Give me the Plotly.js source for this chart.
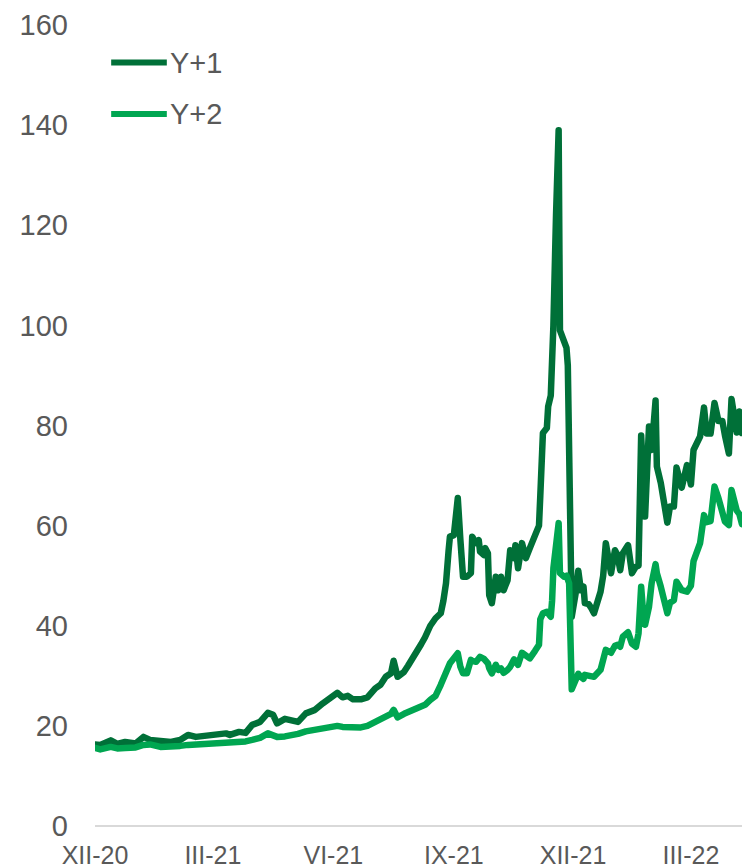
<!DOCTYPE html>
<html>
<head>
<meta charset="utf-8">
<script src="https://cdn.plot.ly/plotly-3.0.1.min.js"></script>
<style>
html,body{margin:0;padding:0;background:#fff;}
#chart{width:742px;height:868px;}
.scatterlayer path.js-line{stroke-linejoin:round;stroke-linecap:round;}
</style>
</head>
<body>
<div id="chart"></div>
<script>
const seriesNames = ["Y+1", "Y+2"];
const dates = [
"2020-12-01","2020-12-05","2020-12-13","2020-12-18","2020-12-24","2021-01-01","2021-01-07","2021-01-12","2021-01-20","2021-01-28",
"2021-02-04","2021-02-10","2021-02-16","2021-02-23","2021-03-03","2021-03-11","2021-03-14","2021-03-21","2021-03-26","2021-03-31",
"2021-04-06","2021-04-12","2021-04-16","2021-04-19","2021-04-25","2021-04-29","2021-05-05","2021-05-11","2021-05-18","2021-05-24",
"2021-05-30","2021-06-04","2021-06-08","2021-06-12","2021-06-16","2021-06-22","2021-06-27","2021-07-03","2021-07-07","2021-07-11",
"2021-07-15","2021-07-17","2021-07-20","2021-07-25","2021-07-28","2021-08-01","2021-08-07","2021-08-10","2021-08-14","2021-08-18",
"2021-08-22","2021-08-24","2021-08-26","2021-08-28","2021-08-29","2021-09-01","2021-09-04","2021-09-06","2021-09-08","2021-09-11",
"2021-09-14","2021-09-15","2021-09-18","2021-09-20","2021-09-21","2021-09-24","2021-09-25","2021-09-27","2021-09-28","2021-09-30",
"2021-10-03","2021-10-05","2021-10-07","2021-10-09","2021-10-12","2021-10-14","2021-10-17","2021-10-18","2021-10-20","2021-10-23",
"2021-10-26","2021-10-29","2021-11-02","2021-11-05","2021-11-06","2021-11-07","2021-11-08","2021-11-11","2021-11-12","2021-11-14",
"2021-11-15","2021-11-16","2021-11-18","2021-11-20","2021-11-21","2021-11-24","2021-11-26","2021-11-27","2021-11-28","2021-11-30",
"2021-12-03","2021-12-05","2021-12-07","2021-12-09","2021-12-10","2021-12-13","2021-12-15","2021-12-17","2021-12-22","2021-12-24",
"2021-12-26","2021-12-30","2022-01-02","2022-01-04","2022-01-06","2022-01-08","2022-01-12","2022-01-15","2022-01-18","2022-01-20",
"2022-01-22","2022-01-24","2022-01-25","2022-01-28","2022-01-30","2022-02-02","2022-02-03","2022-02-06","2022-02-08","2022-02-11",
"2022-02-13","2022-02-16","2022-02-18","2022-02-22","2022-02-26","2022-03-01","2022-03-03","2022-03-08","2022-03-11","2022-03-13",
"2022-03-16","2022-03-19","2022-03-22","2022-03-25","2022-03-27","2022-03-30","2022-04-01","2022-04-05","2022-04-07","2022-04-09"
];
const yPlus1 = [
16.3,16.2,17.1,16.4,16.8,16.5,17.8,17.2,17.0,16.8,
17.2,18.2,17.8,18.0,18.4,18.5,18.2,18.8,18.6,20.2,
20.8,22.6,22.2,20.5,21.4,21.2,20.8,22.5,23.2,24.5,
25.5,26.6,25.7,26.0,25.3,25.3,25.7,27.5,28.2,29.8,
30.5,33.0,29.8,30.8,32.0,34.0,36.3,37.7,40.0,41.5,
42.5,45.0,48.5,55.1,57.8,58.1,65.5,57.1,49.8,49.8,
50.5,57.8,56.5,57.1,54.8,54.1,55.5,54.5,46.1,44.5,
49.8,47.1,49.8,47.1,49.1,55.1,53.5,56.1,51.5,56.5,
53.5,55.5,58.5,60.0,66.0,72.0,78.5,79.5,83.8,86.0,
91.8,100.0,122.0,139.0,99.0,96.5,95.5,92.0,69.0,41.8,
46.5,51.0,47.1,47.8,44.5,44.3,43.5,42.5,46.8,50.0,
56.5,50.5,55.1,54.1,51.1,54.5,56.1,50.5,51.8,52.0,
78.0,61.8,61.8,79.8,75.1,85.0,71.8,68.5,65.5,60.6,
63.8,63.8,71.6,67.6,72.1,68.2,75.1,77.8,83.6,78.4,
78.4,84.5,80.9,80.9,78.0,74.4,85.3,78.6,82.8,78.5
];
const yPlus2 = [
15.6,15.3,15.8,15.5,15.6,15.7,16.2,16.3,15.8,15.8,
16.0,16.2,16.3,16.4,16.4,16.5,16.5,16.6,16.9,17.2,
17.6,18.5,17.9,17.8,17.9,18.0,18.4,18.9,19.2,19.6,
19.9,20.0,19.8,19.7,19.7,19.7,20.0,20.8,21.2,21.8,
22.4,23.2,21.7,22.4,22.8,23.2,23.8,24.2,25.2,26.0,
28.2,29.5,30.5,32.0,32.5,33.5,34.5,31.8,30.5,30.5,
33.2,33.0,32.8,33.5,33.8,33.4,33.2,32.5,31.5,30.5,
32.2,31.2,31.5,30.6,31.2,31.8,33.3,32.8,32.2,34.6,
34.0,33.5,35.0,36.2,41.3,42.0,42.5,42.8,42.5,41.8,
45.0,51.5,56.0,60.5,50.5,49.8,50.0,48.8,48.5,27.3,
29.2,30.4,29.8,29.4,30.2,29.9,29.8,29.8,31.2,33.2,
35.2,34.6,36.0,36.2,35.8,37.8,38.7,36.4,35.8,38.5,
47.8,41.0,40.2,43.8,48.5,52.3,50.5,47.8,45.3,42.5,
44.6,45.1,48.8,47.1,46.8,48.0,52.9,56.5,62.1,60.7,
60.9,67.8,65.5,61.8,60.8,60.1,67.1,63.0,62.3,60.3
];
const tickDates = ["2020-12-01","2021-03-01","2021-06-01","2021-09-01","2021-12-01","2022-03-01"];
const tickLabels = ["XII-20","III-21","VI-21","IX-21","XII-21","III-22"];
const yTicks = [0,20,40,60,80,100,120,140,160];
const colors = ["#007038", "#00A651"];

const font = "Liberation Sans, Arial, sans-serif";
const txt = "#595959";

const traces = [
  {x: dates, y: yPlus1, name: seriesNames[0], type: "scatter", mode: "lines",
   line: {color: colors[0], width: 6.5}, showlegend: false},
  {x: dates, y: yPlus2, name: seriesNames[1], type: "scatter", mode: "lines",
   line: {color: colors[1], width: 6.5}, showlegend: false}
];

const legY = [152.5, 142.2];
const shapes = [];
const annotations = [];
for (let i = 0; i < 2; i++) {
  shapes.push({type: "line", xref: "paper", yref: "y", x0: 0.025, x1: 0.111, y0: legY[i], y1: legY[i],
    line: {color: colors[i], width: 6}});
  annotations.push({xref: "paper", yref: "y", x: 0.113, y: legY[i], xanchor: "left", yanchor: "middle",
    text: seriesNames[i], showarrow: false, font: {family: font, size: 29, color: txt}});
}

const layout = {
  width: 742, height: 868,
  margin: {l: 95, r: 0, t: 25, b: 42},
  paper_bgcolor: "#fff", plot_bgcolor: "#fff",
  showlegend: false,
  xaxis: {
    type: "date", range: ["2020-12-01", "2022-04-09"],
    tickmode: "array", tickvals: tickDates, ticktext: tickLabels,
    showgrid: false, zeroline: false, showline: false, ticks: "",
    tickfont: {family: font, size: 25, color: txt},
    ticklabelstandoff: 12
  },
  yaxis: {
    range: [0, 160], tickmode: "array", tickvals: yTicks,
    showgrid: false, zeroline: true, zerolinecolor: "#d9d9d9", zerolinewidth: 1.5,
    showline: false, ticks: "",
    tickfont: {family: font, size: 29, color: txt},
    ticklabelstandoff: 26
  },
  shapes: shapes,
  annotations: annotations
};

Plotly.newPlot("chart", traces, layout, {displayModeBar: false, staticPlot: true});
</script>
</body>
</html>
